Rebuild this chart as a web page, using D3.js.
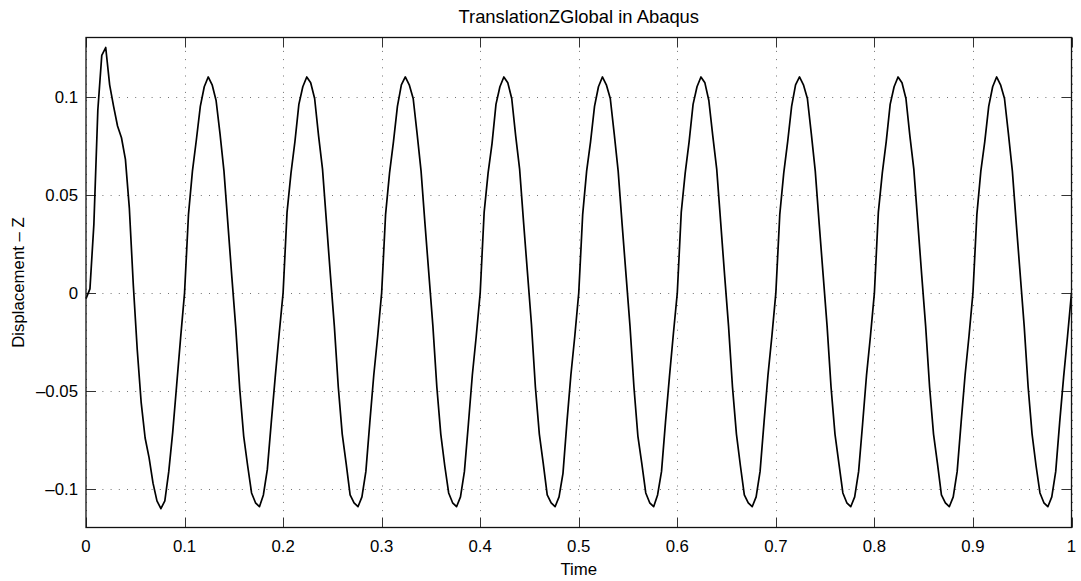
<!DOCTYPE html>
<html>
<head>
<meta charset="utf-8">
<script src="https://cdn.jsdelivr.net/npm/d3@7"></script>
<style>
  html, body { margin: 0; padding: 0; background: #fff; }
  svg { display: block; font-family: "Liberation Sans", Arial, Helvetica, sans-serif; }
</style>
</head>
<body>
<svg id="chart" width="1081" height="581"></svg>
<script>
// Displacement history sampled every 0.004 s (one row per 0.1 s cycle)
const sampleStep = 0.004;
const displacement = [
  -0.003, 0.002, 0.035, 0.093, 0.121, 0.125, 0.106, 0.095, 0.085, 0.079, 0.068, 0.043, 0.004, -0.029, -0.056, -0.074, -0.084, -0.097, -0.106, -0.110, -0.106, -0.091, -0.071, -0.047, -0.023,
  0.000, 0.040, 0.062, 0.078, 0.095, 0.105, 0.110, 0.106, 0.098, 0.081, 0.062, 0.035, 0.008, -0.018, -0.049, -0.073, -0.088, -0.102, -0.107, -0.109, -0.103, -0.090, -0.066, -0.043, -0.021,
  0.000, 0.041, 0.061, 0.077, 0.096, 0.105, 0.110, 0.107, 0.099, 0.080, 0.063, 0.036, 0.009, -0.017, -0.048, -0.072, -0.087, -0.103, -0.107, -0.109, -0.104, -0.091, -0.066, -0.042, -0.022,
  0.000, 0.040, 0.061, 0.077, 0.095, 0.106, 0.110, 0.106, 0.099, 0.081, 0.062, 0.035, 0.009, -0.017, -0.048, -0.072, -0.088, -0.102, -0.107, -0.109, -0.104, -0.091, -0.067, -0.042, -0.022,
  0.000, 0.041, 0.061, 0.076, 0.096, 0.105, 0.110, 0.107, 0.099, 0.080, 0.063, 0.036, 0.010, -0.016, -0.048, -0.072, -0.087, -0.103, -0.107, -0.109, -0.104, -0.092, -0.066, -0.042, -0.022,
  0.000, 0.040, 0.062, 0.077, 0.095, 0.105, 0.110, 0.106, 0.099, 0.081, 0.062, 0.035, 0.009, -0.017, -0.048, -0.073, -0.087, -0.102, -0.107, -0.109, -0.103, -0.091, -0.066, -0.043, -0.021,
  0.000, 0.041, 0.061, 0.077, 0.096, 0.105, 0.110, 0.107, 0.098, 0.080, 0.063, 0.036, 0.009, -0.017, -0.048, -0.072, -0.088, -0.103, -0.107, -0.109, -0.104, -0.091, -0.066, -0.042, -0.022,
  0.000, 0.040, 0.061, 0.077, 0.095, 0.106, 0.110, 0.106, 0.099, 0.081, 0.062, 0.035, 0.009, -0.017, -0.048, -0.072, -0.087, -0.102, -0.107, -0.109, -0.104, -0.091, -0.067, -0.042, -0.022,
  0.000, 0.041, 0.061, 0.077, 0.096, 0.105, 0.110, 0.107, 0.099, 0.080, 0.063, 0.036, 0.009, -0.017, -0.048, -0.072, -0.087, -0.103, -0.107, -0.109, -0.104, -0.091, -0.066, -0.042, -0.022,
  0.000, 0.040, 0.062, 0.077, 0.095, 0.105, 0.110, 0.106, 0.099, 0.081, 0.062, 0.035, 0.009, -0.017, -0.048, -0.072, -0.088, -0.102, -0.107, -0.109, -0.104, -0.091, -0.066, -0.043, -0.022,
  0.000
];

const xTicks = [0, 0.1, 0.2, 0.3, 0.4, 0.5, 0.6, 0.7, 0.8, 0.9, 1];
const xTickLabels = ["0", "0.1", "0.2", "0.3", "0.4", "0.5", "0.6", "0.7", "0.8", "0.9", "1"];
const yTicks = [-0.1, -0.05, 0, 0.05, 0.1];
const yTickLabels = ["\u20130.1", "\u20130.05", "0", "0.05", "0.1"];
const xDomain = [0, 1];
const yDomain = [-0.1196, 0.1301];

const titleText = "TranslationZGlobal in Abaqus";
const xLabelText = "Time";
const yLabelText = "Displacement \u2013 Z";

// Layout
const svg = d3.select("#chart");
const plot = { left: 86, right: 1071.5, top: 37.5, bottom: 527.5 };
const tickLen = 10;
const fontSize = 16.8;

const x = d3.scaleLinear().domain(xDomain).range([plot.left, plot.right]);
const y = d3.scaleLinear().domain(yDomain).range([plot.bottom, plot.top]);

const series = displacement.map((v, i) => ({ t: i * sampleStep, v }));

// Dotted grid
const grid = svg.append("g").attr("class", "grid")
  .attr("stroke", "#000").attr("stroke-width", 1)
  .attr("stroke-dasharray", "1,7.2").attr("opacity", 0.55);
grid.selectAll("line.gx").data(xTicks).join("line").attr("class", "gx")
  .attr("x1", d => Math.round(x(d)) + 0.5).attr("x2", d => Math.round(x(d)) + 0.5)
  .attr("y1", plot.bottom).attr("y2", plot.top);
grid.selectAll("line.gy").data(yTicks).join("line").attr("class", "gy")
  .attr("y1", d => Math.round(y(d)) + 0.5).attr("y2", d => Math.round(y(d)) + 0.5)
  .attr("x1", plot.left).attr("x2", plot.right);

// Inward ticks on all four sides
const ticks = svg.append("g").attr("stroke", "#333").attr("stroke-width", 1);
xTicks.forEach(d => {
  const px = Math.round(x(d)) + 0.5;
  ticks.append("line").attr("x1", px).attr("x2", px).attr("y1", plot.bottom).attr("y2", plot.bottom - tickLen);
  ticks.append("line").attr("x1", px).attr("x2", px).attr("y1", plot.top).attr("y2", plot.top + tickLen);
});
yTicks.forEach(d => {
  const py = Math.round(y(d)) + 0.5;
  ticks.append("line").attr("y1", py).attr("y2", py).attr("x1", plot.left).attr("x2", plot.left + tickLen);
  ticks.append("line").attr("y1", py).attr("y2", py).attr("x1", plot.right).attr("x2", plot.right - tickLen);
});

// Displacement curve
const line = d3.line().x(d => x(d.t)).y(d => y(d.v));
svg.append("path").datum(series)
  .attr("fill", "none").attr("stroke", "#000").attr("stroke-width", 1.7)
  .attr("stroke-linejoin", "round").attr("d", line);

// Axes box
svg.append("rect")
  .attr("x", plot.left).attr("y", plot.top)
  .attr("width", plot.right - plot.left).attr("height", plot.bottom - plot.top)
  .attr("fill", "none").attr("stroke", "#111").attr("stroke-width", 1.3);

// Tick labels
svg.append("g").selectAll("text").data(xTicks).join("text")
  .attr("x", d => x(d)).attr("y", plot.bottom + 24.5)
  .attr("text-anchor", "middle").attr("font-size", fontSize).attr("fill", "#000")
  .text((d, i) => xTickLabels[i]);
svg.append("g").selectAll("text").data(yTicks).join("text")
  .attr("x", plot.left - 8).attr("y", d => y(d) + 6)
  .attr("text-anchor", "end").attr("font-size", fontSize).attr("fill", "#000")
  .text((d, i) => yTickLabels[i]);

// Title and axis labels
svg.append("text")
  .attr("x", (plot.left + plot.right) / 2).attr("y", 23.3)
  .attr("text-anchor", "middle").attr("font-size", 18.4).attr("fill", "#000")
  .text(titleText);
svg.append("text")
  .attr("x", (plot.left + plot.right) / 2).attr("y", 575)
  .attr("text-anchor", "middle").attr("font-size", fontSize).attr("fill", "#000")
  .text(xLabelText);
svg.append("text")
  .attr("transform", `translate(24, ${(plot.top + plot.bottom) / 2}) rotate(-90)`)
  .attr("text-anchor", "middle").attr("font-size", fontSize).attr("fill", "#000")
  .text(yLabelText);
</script>
</body>
</html>
